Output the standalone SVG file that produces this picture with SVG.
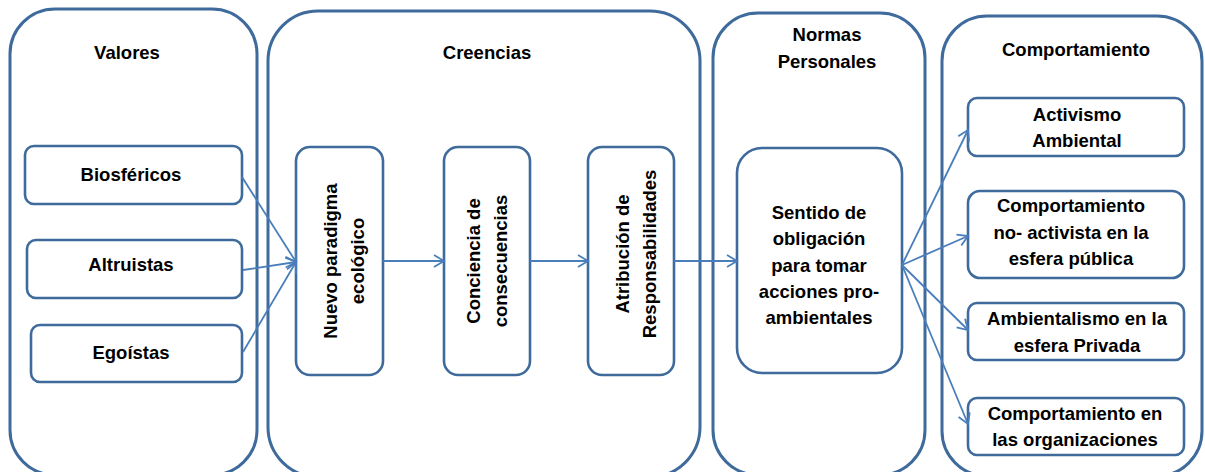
<svg xmlns="http://www.w3.org/2000/svg" width="1205" height="472" viewBox="0 0 1205 472">
<defs>
<marker id="arr" markerWidth="14" markerHeight="14" refX="12" refY="7" orient="auto" markerUnits="userSpaceOnUse">
<path d="M2,1 L12,7 L2,13" fill="none" stroke="#4a7ebb" stroke-width="1.8"/>
</marker>
</defs>
<style>
.outer{fill:#fff;stroke:#3e6a9c;stroke-width:3}
.box{fill:#fff;stroke:#3e6a9c;stroke-width:2.6}
.t{font-family:"Liberation Sans",Arial,sans-serif;font-weight:bold;font-size:18.5px;fill:#000;text-anchor:middle}
.c{fill:none;stroke:#4a7ebb;stroke-width:1.8}
</style>
<g id="valores">
<rect class="outer" x="10" y="9" width="247" height="466" rx="45"/>
<text class="t" x="127" y="59">Valores</text>
</g>
<g id="creencias">
<rect class="outer" x="268" y="11" width="432" height="466" rx="50"/>
<text class="t" x="487" y="59">Creencias</text>
</g>
<g id="normas">
<rect class="outer" x="713" y="13" width="212" height="462" rx="45"/>
<text class="t" x="827" y="41">Normas</text>
<text class="t" x="827" y="68">Personales</text>
</g>
<g id="comportamiento">
<rect class="outer" x="942" y="16" width="260" height="460" rx="45"/>
<text class="t" x="1076" y="56">Comportamiento</text>
</g>
<g id="biosfericos">
<rect class="box" x="25" y="146" width="217" height="58" rx="9"/>
<text class="t" x="131" y="181">Biosféricos</text>
</g>
<g id="altruistas">
<rect class="box" x="27" y="240" width="215" height="58" rx="9"/>
<text class="t" x="131" y="271">Altruistas</text>
</g>
<g id="egoistas">
<rect class="box" x="31" y="325" width="211" height="57" rx="9"/>
<text class="t" x="131" y="359">Egoístas</text>
</g>
<g id="nuevo">
<rect class="box" x="296" y="147" width="87" height="228" rx="14"/>
<text class="t" transform="translate(330,261) rotate(-90)"><tspan x="0" y="7">Nuevo paradigma</tspan><tspan x="0" y="34">ecológico</tspan></text>
</g>
<g id="conciencia">
<rect class="box" x="444" y="147" width="86" height="228" rx="14"/>
<text class="t" transform="translate(473,261) rotate(-90)"><tspan x="0" y="7">Conciencia de</tspan><tspan x="0" y="34">consecuencias</tspan></text>
</g>
<g id="atribucion">
<rect class="box" x="588" y="147" width="86" height="228" rx="14"/>
<text class="t" transform="translate(622,254) rotate(-90)"><tspan x="0" y="7">Atribución de</tspan><tspan x="0" y="34">Responsabilidades</tspan></text>
</g>
<g id="sentido">
<rect class="box" x="737" y="148" width="165" height="225" rx="25"/>
<text class="t"><tspan x="819" y="219">Sentido de</tspan><tspan x="819" y="245">obligación</tspan><tspan x="819" y="272">para tomar</tspan><tspan x="819" y="298">acciones pro-</tspan><tspan x="819" y="324">ambientales</tspan></text>
</g>
<g id="activismo">
<rect class="box" x="968" y="98" width="216" height="58" rx="9"/>
<text class="t"><tspan x="1077" y="121">Activismo</tspan><tspan x="1077" y="147">Ambiental</tspan></text>
</g>
<g id="noactivista">
<rect class="box" x="968" y="191" width="216" height="87" rx="12"/>
<text class="t"><tspan x="1071" y="212">Comportamiento</tspan><tspan x="1071" y="239">no- activista en la</tspan><tspan x="1071" y="265">esfera pública</tspan></text>
</g>
<g id="privada">
<rect class="box" x="968" y="303" width="216" height="57" rx="9"/>
<text class="t"><tspan x="1077" y="325">Ambientalismo en la</tspan><tspan x="1077" y="352">esfera Privada</tspan></text>
</g>
<g id="organizaciones">
<rect class="box" x="968" y="398" width="216" height="57" rx="9"/>
<text class="t"><tspan x="1075" y="420">Comportamiento en</tspan><tspan x="1075" y="446">las organizaciones</tspan></text>
</g>
<g id="connectors">
<line class="c" x1="242" y1="177" x2="296" y2="262" marker-end="url(#arr)"/>
<line class="c" x1="243" y1="270" x2="296" y2="262" marker-end="url(#arr)"/>
<line class="c" x1="243" y1="352" x2="296" y2="262" marker-end="url(#arr)"/>
<line class="c" x1="383" y1="261" x2="444" y2="261" marker-end="url(#arr)"/>
<line class="c" x1="530" y1="261" x2="588" y2="261" marker-end="url(#arr)"/>
<line class="c" x1="674" y1="261" x2="737" y2="261" marker-end="url(#arr)"/>
<line class="c" x1="902" y1="265" x2="968" y2="130" marker-end="url(#arr)"/>
<line class="c" x1="902" y1="265" x2="968" y2="236" marker-end="url(#arr)"/>
<line class="c" x1="902" y1="265" x2="968" y2="330" marker-end="url(#arr)"/>
<line class="c" x1="902" y1="265" x2="968" y2="424" marker-end="url(#arr)"/>
</g>
</svg>
